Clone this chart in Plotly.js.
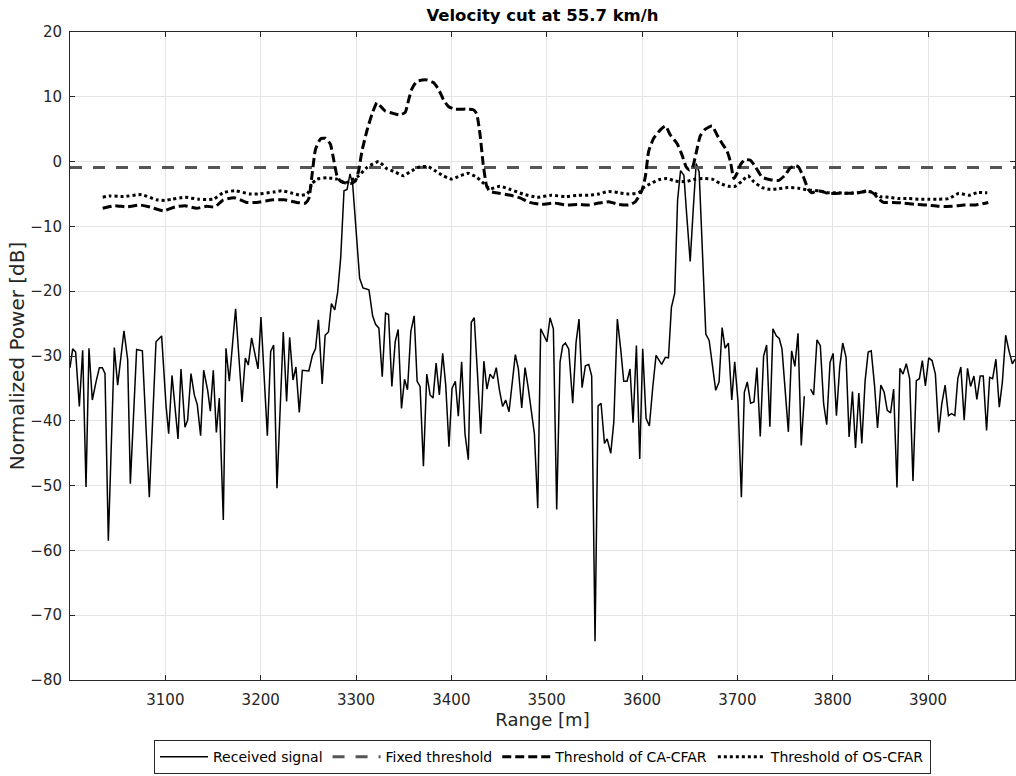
<!DOCTYPE html>
<html>
<head>
<meta charset="utf-8">
<script src="https://cdn.plot.ly/plotly-3.0.1.min.js"></script>
<style>
  html, body { margin: 0; padding: 0; background: #ffffff; }
  #chart { width: 1016px; height: 776px; }
</style>
</head>
<body>
<div id="chart"></div>
<script>
// Received power along range (vertices of the trace), null marks a dropout
const sigRange = [
  3000.0, 3002.8, 3005.9, 3009.8, 3013.3, 3016.8, 3019.9, 3023.4, 3027.3, 3030.8,
  3033.9, 3036.7, 3040.2, 3046.5, 3050.0, 3056.6, 3060.5, 3063.3, 3069.9, 3075.9,
  3083.2, 3090.2, 3096.1, 3100.7, 3103.5, 3107.0, 3113.3, 3116.4, 3120.6, 3123.4,
  3126.9, 3130.4, 3133.5, 3137.0, 3140.2, 3144.4, 3147.2, 3150.3, 3153.5, 3156.6,
  3160.8, 3163.6, 3167.1, 3173.7, 3180.4, 3183.9, 3187.0, 3190.5, 3197.2, 3200.3,
  3207.0, 3210.5, 3213.6, 3217.1, 3223.7, 3227.2, 3230.4, 3233.9, 3237.0, 3240.5,
  3243.7, 3250.5, 3254.3, 3257.5, 3260.6, 3264.5, 3267.6, 3271.1, 3274.2, 3277.7,
  3280.8, 3284.0, 3287.4, 3290.6, 3293.7, 3296.5, 3303.8, 3307.3, 3313.6, 3317.4,
  3320.5, 3324.0, 3327.5, 3331.0, 3334.1, 3337.6, 3341.1, 3344.2, 3347.7, 3350.9,
  3354.0, 3357.5, 3361.0, 3364.1, 3367.2, 3370.7, 3374.2, 3377.7, 3380.8, 3384.0,
  3387.4, 3390.9, 3394.1, 3397.5, 3400.7, 3404.2, 3407.3, 3410.8, 3414.3, 3417.8,
  3420.9, 3424.0, 3427.5, 3430.8, 3434.1, 3437.3, 3440.6, 3444.0, 3447.1, 3450.5,
  3453.8, 3457.0, 3460.5, 3467.1, 3470.3, 3473.8, 3477.3, 3480.4, 3487.1, 3490.6,
  3493.7, 3497.6, 3500.3, 3503.5, 3507.0, 3510.5, 3514.0, 3516.8, 3519.6, 3523.1,
  3527.3, 3530.8, 3533.9, 3537.1, 3540.6, 3544.1, 3547.2, 3550.7, 3553.9, 3557.0,
  3560.6, 3563.4, 3567.2, 3570.4, 3574.1, 3577.6, 3580.8, 3584.3, 3587.4, 3590.6,
  3594.1, 3597.6, 3600.7, 3604.2, 3607.7, 3611.2, 3614.7, 3620.6, 3624.5, 3627.7,
  3630.8, 3634.3, 3637.3, 3640.4, 3643.9, 3647.0, 3650.5, 3653.7, 3656.8, 3659.9,
  3663.4, 3666.9, 3670.4, 3673.5, 3677.3, 3680.8, 3684.0, 3687.1, 3690.6, 3694.1,
  3697.2, 3700.7, 3704.2, 3707.3, 3710.4, 3713.9, 3717.4, 3720.5, 3724.0, 3727.5,
  3730.7, 3734.1, 3737.3, 3740.8, 3743.9, 3746.8, 3753.5, 3756.9, 3760.3, 3763.6,
  3767.0, 3770.2, 3773.5, 3776.8, 3780.0, 3783.5, 3787.0, 3790.5, 3793.7, 3797.2,
  3800.4, 3803.9, 3807.4, 3810.5, 3814.0, 3817.2, 3820.7, 3823.9, 3827.4, 3830.5,
  3834.0, 3837.2, 3840.4, 3843.9, 3847.0, 3850.5, 3854.0, 3857.2, 3860.7, 3863.9,
  3867.4, 3870.5, 3873.7, 3877.2, 3880.7, 3884.2, 3887.7, 3890.9, 3894.0, 3897.2,
  3900.7, 3904.2, 3907.7, 3911.2, 3914.4, 3917.9, 3921.4, 3924.6, 3928.1, 3931.2,
  3934.4, 3937.9, 3941.4, 3944.6, 3948.1, 3951.2, 3954.7, 3957.9, 3961.4, 3964.6,
  3967.7, 3971.2, 3974.7, 3977.9, 3981.4, 3984.9, 3988.4, 3991.2
];
const sigPower = [
  -31.8, -28.9, -29.4, -37.8, -29.1, -50.2, -28.8, -36.8, -34.0, -31.8,
  -31.8, -32.7, -58.5, -28.7, -34.5, -26.1, -30.6, -49.7, -29.0, -29.2,
  -51.8, -27.8, -26.9, -37.6, -42.0, -33.0, -42.8, -32.0, -41.0, -39.9,
  -32.7, -36.0, -37.5, -42.3, -32.2, -35.3, -38.5, -32.2, -41.8, -36.5,
  -55.3, -28.8, -33.9, -22.7, -37.1, -30.3, -31.4, -27.2, -32.0, -24.0,
  -42.3, -29.3, -28.3, -50.4, -26.3, -37.0, -27.1, -33.7, -31.7, -38.7,
  -32.2, -32.3, -29.9, -28.9, -24.4, -34.3, -26.8, -26.3, -21.9, -22.9,
  -20.1, -14.7, -4.5, -4.3, -1.9, -3.5, -18.0, -19.5, -19.8, -23.8,
  -25.1, -25.7, -33.2, -23.4, -23.6, -34.7, -27.8, -25.9, -38.1, -33.6,
  -35.2, -26.2, -23.8, -33.9, -34.7, -47.0, -32.8, -36.0, -36.5, -31.1,
  -36.0, -29.6, -34.5, -44.0, -35.0, -33.9, -39.3, -30.9, -42.0, -46.0,
  -24.8, -24.1, -33.0, -42.0, -30.8, -35.1, -32.8, -33.5, -31.8, -35.3,
  -37.8, -36.8, -38.6, -29.8, -32.0, -38.0, -31.8, -34.7, -42.0, -53.5,
  -25.8, -27.1, -27.8, -24.1, -25.8, -53.7, -30.9, -28.4, -28.0, -28.9,
  -37.3, -27.9, -24.3, -34.9, -31.5, -31.3, -33.1, -74.0, -37.7, -37.3,
  -43.5, -42.8, -45.0, -40.2, -24.3, -28.9, -33.9, -33.9, -32.0, -40.3,
  -28.4, -45.9, -28.9, -39.6, -40.8, -34.9, -29.9, -31.3, -30.2, -30.3,
  -22.5, -20.3, -5.9, -1.4, -2.1, -8.5, -15.4, -7.4, -0.3, -1.6,
  -13.6, -26.6, -27.6, -30.9, -35.3, -34.0, -25.6, -28.8, -28.0, -36.8,
  -30.9, -37.1, -51.8, -35.6, -34.0, -37.3, -37.1, -31.8, -42.4, -30.0,
  -28.3, -40.9, -25.8, -26.9, -27.3, -28.9, -41.7, -29.2, -31.6, -26.5,
  -43.8, -36.2, null, -35.1, -36.0, -27.5, -28.4, -37.4, -40.6, -31.0,
  -29.6, -39.2, -31.6, -28.0, -30.2, -42.5, -35.5, -44.2, -35.7, -43.5,
  -33.8, -29.4, -29.2, -34.6, -41.1, -34.5, -35.6, -38.4, -38.8, -35.1,
  -50.3, -31.9, -32.8, -31.2, -33.5, -49.3, -33.8, -33.5, -30.7, -34.6,
  -30.3, -30.7, -32.8, -41.8, -37.4, -34.5, -39.2, -38.9, -39.2, -33.5,
  -31.7, -39.9, -31.9, -34.7, -33.1, -36.7, -33.1, -33.1, -41.5, -33.3,
  -33.5, -30.5, -37.9, -34.1, -26.8, -29.2, -31.2, -30.5
];

// Fixed detection threshold [dB] over the displayed range
const fixedRange = [3000, 3991.2];
const fixedLevel = [-0.9, -0.9];

// Cell-averaging CFAR threshold
const caRange = [
  3034.3, 3047.2, 3059.4, 3073.4, 3083.9, 3097.9, 3110.1, 3120.6, 3132.8, 3143.3,
  3152.1, 3160.8, 3173.0, 3185.3, 3195.8, 3213.3, 3225.0, 3237.7, 3247.0, 3250.5,
  3254.0, 3257.5, 3262.7, 3267.9, 3273.1, 3276.7, 3280.1, 3283.6, 3288.9, 3294.1,
  3299.3, 3302.8, 3306.3, 3311.5, 3316.7, 3322.0, 3325.4, 3330.7, 3337.6, 3346.3,
  3351.6, 3355.0, 3358.5, 3363.8, 3374.2, 3381.2, 3386.4, 3391.6, 3396.9, 3403.8,
  3416.0, 3423.0, 3426.5, 3430.0, 3433.4, 3436.9, 3440.4, 3450.9, 3462.0, 3472.0,
  3482.0, 3495.0, 3508.0, 3520.0, 3533.0, 3544.0, 3554.5, 3565.0, 3575.5, 3586.0,
  3593.0, 3600.0, 3603.5, 3607.0, 3612.2, 3619.2, 3624.5, 3629.7, 3636.7, 3642.0,
  3646.2, 3649.7, 3653.2, 3656.7, 3661.2, 3666.4, 3673.4, 3678.7, 3684.0, 3689.2,
  3692.7, 3696.3, 3699.7, 3703.2, 3707.7, 3713.6, 3718.9, 3725.9, 3734.6, 3743.4,
  3750.0, 3755.3, 3760.5, 3764.0, 3769.1, 3774.4, 3777.9, 3784.9, 3795.4, 3806.0,
  3816.5, 3827.0, 3837.5, 3842.8, 3848.0, 3853.3, 3863.9, 3874.4, 3886.7, 3899.0,
  3911.2, 3925.3, 3937.6, 3949.8, 3963.2
];
const caLevel = [
  -7.2, -6.8, -7.0, -6.7, -7.0, -7.6, -7.0, -6.8, -7.2, -6.9,
  -7.0, -5.9, -5.6, -6.3, -6.3, -5.9, -5.9, -6.3, -6.4, -5.7,
  -1.9, 1.9, 3.5, 3.6, 2.7, 0.2, -2.2, -3.0, -3.3, -3.4,
  -3.0, -1.4, 1.7, 4.8, 7.3, 9.1, 8.6, 7.8, 7.5, 7.2,
  7.6, 9.4, 11.2, 12.4, 12.6, 12.2, 11.2, 9.6, 8.5, 8.1,
  8.1, 8.0, 7.4, 4.3, -0.4, -3.7, -4.6, -4.9, -5.2, -5.6,
  -6.3, -6.6, -6.4, -6.7, -6.6, -6.7, -6.4, -6.2, -6.6, -6.7,
  -6.2, -4.4, -2.3, 1.6, 3.6, 4.9, 5.5, 4.1, 2.8, 1.0,
  -0.8, -1.3, -0.8, 1.3, 4.0, 5.0, 5.5, 4.1, 2.8, 1.6,
  0.0, -2.6, -1.8, -0.5, 0.3, 0.2, -0.8, -2.4, -2.8, -2.9,
  -2.1, -1.0, -0.6, -0.8, -2.3, -4.3, -4.8, -4.5, -4.9, -4.9,
  -4.9, -4.8, -4.5, -4.9, -5.7, -6.3, -6.3, -6.4, -6.6, -6.7,
  -6.9, -6.9, -6.7, -6.7, -6.3
];

// Ordered-statistic CFAR threshold
const osRange = [
  3034.3, 3041.9, 3055.9, 3075.2, 3090.9, 3099.6, 3106.6, 3120.6, 3134.6, 3150.3,
  3160.8, 3173.0, 3188.8, 3197.5, 3213.3, 3222.0, 3231.3, 3241.8, 3248.8, 3254.0,
  3259.2, 3269.7, 3280.1, 3288.9, 3295.8, 3302.8, 3311.5, 3323.7, 3332.4, 3341.1,
  3349.8, 3358.5, 3367.2, 3375.9, 3382.9, 3391.6, 3400.3, 3409.0, 3417.8, 3426.5,
  3433.4, 3440.4, 3450.9, 3462.0, 3475.0, 3490.0, 3505.0, 3520.0, 3533.0, 3544.0,
  3554.5, 3565.0, 3575.5, 3586.0, 3596.5, 3601.7, 3608.7, 3617.5, 3626.2, 3635.0,
  3645.5, 3656.0, 3664.7, 3673.4, 3682.2, 3690.9, 3697.9, 3704.9, 3711.2, 3717.2,
  3725.9, 3734.6, 3743.4, 3753.3, 3763.9, 3774.4, 3784.9, 3795.4, 3806.0, 3816.5,
  3827.0, 3837.5, 3844.6, 3849.8, 3858.6, 3869.1, 3879.7, 3890.2, 3900.7, 3911.2,
  3921.8, 3932.3, 3942.8, 3951.6, 3962.1
];
const osLevel = [
  -5.5, -5.3, -5.4, -5.1, -5.9, -6.0, -5.8, -5.5, -5.8, -5.8,
  -4.8, -4.5, -5.0, -5.0, -4.7, -4.5, -4.8, -5.2, -5.0, -3.4,
  -2.7, -2.5, -2.7, -3.3, -2.8, -2.2, -0.9, 0.0, -1.1, -1.6,
  -2.2, -1.4, -0.8, -0.8, -1.4, -2.2, -2.7, -2.2, -1.8, -2.4,
  -3.3, -4.2, -3.8, -4.3, -5.0, -5.5, -5.2, -5.4, -5.2, -5.2,
  -5.0, -4.6, -4.8, -5.0, -4.8, -4.0, -3.4, -2.8, -2.6, -3.0,
  -3.1, -2.7, -2.6, -2.7, -3.4, -3.8, -3.8, -3.0, -2.2, -3.1,
  -4.0, -4.3, -4.2, -4.0, -4.1, -4.4, -4.5, -4.8, -4.8, -4.9,
  -4.8, -4.6, -4.9, -5.4, -5.5, -5.7, -5.7, -5.8, -5.8, -5.8,
  -5.7, -4.9, -5.2, -4.8, -4.8
];

const xTicks = [3100, 3200, 3300, 3400, 3500, 3600, 3700, 3800, 3900];
const yTicks = [-80, -70, -60, -50, -40, -30, -20, -10, 0, 10, 20];

// tick labels with a typographic minus sign
const fmtTick = v => (v < 0 ? '\u2212' + Math.abs(v) : String(v));

const FONT = 'DejaVu Sans, Verdana, sans-serif';
const INK = '#262626';

const traces = [
  {
    x: sigRange, y: sigPower, type: 'scatter', mode: 'lines',
    name: 'Received signal', connectgaps: false,
    line: { color: '#000000', width: 1.5 }
  },
  {
    x: fixedRange, y: fixedLevel, type: 'scatter', mode: 'lines',
    name: 'Fixed threshold',
    line: { color: '#555555', width: 3, dash: '12px,11px' }
  },
  {
    x: caRange, y: caLevel, type: 'scatter', mode: 'lines',
    name: 'Threshold of CA-CFAR',
    line: { color: '#000000', width: 3, dash: '9px,4px', shape: 'spline', smoothing: 0.5 }
  },
  {
    x: osRange, y: osLevel, type: 'scatter', mode: 'lines',
    name: 'Threshold of OS-CFAR',
    line: { color: '#000000', width: 3, dash: '3px,3px', shape: 'spline', smoothing: 0.5 }
  }
];

const layout = {
  width: 1016, height: 776,
  margin: { l: 70, r: 1, t: 32, b: 96, pad: 0 },
  paper_bgcolor: '#ffffff', plot_bgcolor: '#ffffff',
  font: { family: FONT, size: 15, color: INK },
  showlegend: true,
  title: {
    text: '<b>Velocity cut at 55.7 km/h</b>',
    font: { family: FONT, size: 16.5, color: '#000000' },
    x: 0.5, xref: 'paper', xanchor: 'center',
    y: 1 - 15 / 776, yref: 'container', yanchor: 'middle'
  },
  xaxis: {
    range: [3000, 3991.2], tickvals: xTicks, ticktext: xTicks.map(fmtTick),
    showgrid: true, gridcolor: '#e4e4e4', gridwidth: 1, zeroline: false,
    showline: true, linecolor: INK, linewidth: 1, mirror: 'ticks',
    ticks: 'inside', ticklen: 5, tickcolor: INK, tickwidth: 1,
    ticklabelstandoff: 6,
    tickfont: { family: FONT, size: 15, color: INK },
    title: { text: 'Range [m]', font: { family: FONT, size: 18, color: INK }, standoff: 4 }
  },
  yaxis: {
    range: [-80, 20], tickvals: yTicks, ticktext: yTicks.map(fmtTick),
    showgrid: true, gridcolor: '#e4e4e4', gridwidth: 1, zeroline: false,
    showline: true, linecolor: INK, linewidth: 1, mirror: 'ticks',
    ticks: 'inside', ticklen: 5, tickcolor: INK, tickwidth: 1,
    ticklabelstandoff: 4,
    tickfont: { family: FONT, size: 15, color: INK },
    title: { text: 'Normalized Power [dB]', font: { family: FONT, size: 20, color: INK }, standoff: 0 }
  },
  legend: {
    orientation: 'h', x: 0.5, xanchor: 'center', y: -0.093, yanchor: 'top',
    bgcolor: '#ffffff', bordercolor: INK, borderwidth: 1,
    font: { family: FONT, size: 14, color: '#000000' },
    itemwidth: 48, tracegroupgap: 0
  }
};

Plotly.newPlot('chart', traces, layout, { displayModeBar: false, staticPlot: true });
</script>
</body>
</html>
